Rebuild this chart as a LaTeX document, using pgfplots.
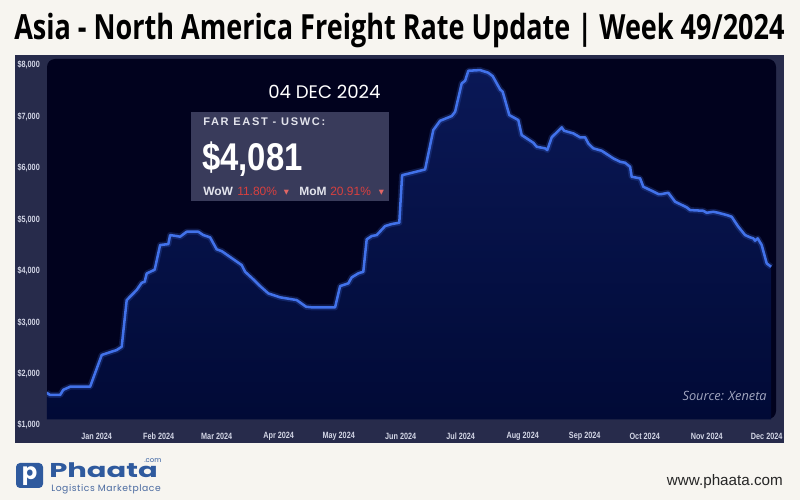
\documentclass[border=0pt]{standalone}
\usepackage{pgfplots}
\usepackage{pgfplotstable}
\pgfplotsset{compat=1.18}
\usepackage{fontspec}
\setmainfont{Liberation Sans}
\newfontfamily\titlefont[FakeStretch=0.78]{Open Sans}
\newfontfamily\narrowfont[FakeStretch=0.8]{Liberation Sans}
\newfontfamily\spacedfont[LetterSpace=15]{Liberation Sans}
\newfontfamily\bignum[FakeStretch=0.85]{Liberation Sans}
\newfontfamily\datefont{Poppins}
\newfontfamily\srcfont{Open Sans}
\newfontfamily\symfont{DejaVu Sans}
\newfontfamily\logofont{Poppins}
\newfontfamily\logosubfont[LetterSpace=6]{Poppins}

\definecolor{pagebg}{HTML}{F7F5F0}
\definecolor{panel}{HTML}{272B4B}
\definecolor{innerbg}{HTML}{01021E}
\definecolor{areatop}{HTML}{0A1856}
\definecolor{areabot}{HTML}{010A36}
\definecolor{linecol}{HTML}{4272EA}
\definecolor{boxcol}{HTML}{393B5B}
\definecolor{boxtext}{HTML}{E2E3EC}
\definecolor{tickcol}{HTML}{D3D6E6}
\definecolor{redcol}{HTML}{D8403F}
\definecolor{srccol}{HTML}{A0A4BE}
\definecolor{logoblue}{HTML}{2F5A9E}
\definecolor{logosub}{HTML}{4A6AA0}

\pgfplotstableread{
day value
-25 1633
-23.3 1590
-18.3 1590
-16.7 1690
-13.3 1750
-3.3 1750
2.5 2366
5 2400
10 2463
12.5 2527
15 3433
20 3630
22.5 3770
24 3790
25 3950
29 4025
31.7 4503
35.8 4522
36.7 4697
40 4678
41.7 4665
45 4762
50.8 4762
53.3 4697
56.7 4652
60 4420
62.5 4385
72.5 4114
74.2 3984
78.3 3837
81.7 3706
85.8 3564
91.7 3487
100 3434
104.7 3304
107.5 3293
119.2 3293
121.7 3706
125.8 3759
127.5 3875
130.8 3953
133.3 3984
135 4614
137.5 4678
140 4697
144.2 4872
147.5 4911
151.3 4937
152.7 5860
161.7 5947
164.2 5973
168.3 6737
171.7 6918
177.5 7009
179.2 7093
182.5 7645
184.2 7695
185.8 7889
191.7 7903
195.8 7851
198 7786
201.7 7528
203 7482
206.3 7029
210.8 6932
212.5 6640
218.3 6491
220 6413
224.2 6382
225.3 6349
227.5 6596
232.5 6790
233.7 6724
238.3 6673
241.7 6596
244.2 6596
245.8 6479
248.3 6382
252.5 6335
258.3 6187
261.7 6122
264.2 6102
266.7 6024
267.5 5830
271.7 5799
273.3 5636
277.5 5558
280.8 5494
282.5 5494
285.8 5519
289.2 5345
295 5236
296.7 5183
303.3 5169
305 5130
308.3 5150
310.8 5130
315 5086
317.5 5053
320.8 4859
324.2 4697
326.7 4653
328.3 4633
329.2 4587
330.5 4633
332.5 4503
335 4147
337.2 4081
}\rates

\begin{document}
\begin{tikzpicture}[x=0.75pt,y=0.75pt]
\useasboundingbox (0,0) rectangle (800,500);
\fill[pagebg] (0,0) rectangle (800,500);
\node[anchor=base west, inner sep=0pt, text=black] at (14,460)
  {\titlefont\bfseries\fontsize{26}{30}\selectfont Asia - North America Freight Rate Update | Week 49/2024};
\fill[panel] (15,57) rectangle (784,445);
\fill[innerbg, rounded corners=6pt] (47,81) rectangle (776,441);

\begin{axis}[
  at={(35.25pt,56pt)}, anchor=south west,
  width=546.75pt, height=274.9pt, scale only axis,
  xmin=-24.85, xmax=339.65, ymin=1000, ymax=8122,
  axis line style={draw=none}, tick style={draw=none},
  major tick length=0pt,
  xtick={0,31,60,91,121,152,182,213,244,274,305,335},
  xticklabels={Jan 2024,Feb 2024,Mar 2024,Apr 2024,May 2024,Jun 2024,Jul 2024,Aug 2024,Sep 2024,Oct 2024,Nov 2024,Dec 2024},
  ytick={1000,2000,3000,4000,5000,6000,7000,8000},
  yticklabels={{\$1,000},{\$2,000},{\$3,000},{\$4,000},{\$5,000},{\$6,000},{\$7,000},{\$8,000}},
  xticklabel style={font=\narrowfont\bfseries\fontsize{6.8}{8}\selectfont, text=tickcol, anchor=center, yshift=-8.4pt, inner sep=0pt},
  yticklabel style={font=\narrowfont\bfseries\fontsize{6.8}{8}\selectfont, text=tickcol, anchor=east, xshift=-5.2pt, inner sep=0pt},
]
\addplot[draw=none, shade, top color=areatop, bottom color=areabot] table[x=day,y=value] {\rates} |- (axis cs:-25,1117) -- cycle;
\addplot[linecol, line width=4.5pt, opacity=0.22, line join=round] table[x=day,y=value] {\rates};
\addplot[linecol, line width=1.9pt, line join=round] table[x=day,y=value] {\rates};
\end{axis}

% info box
\node[anchor=base west, inner sep=0pt, text=white] at (268,401)
  {\datefont\fontsize{13.6}{16}\selectfont 04 DEC 2024};
\fill[boxcol] (191,299) rectangle (389,388);
\node[anchor=base west, inner sep=0pt, text=boxtext] at (203,374.5)
  {\spacedfont\bfseries\fontsize{8.3}{10}\selectfont FAR EAST - USWC:};
\node[anchor=base west, inner sep=0pt, text=white] at (202,329)
  {\bignum\bfseries\fontsize{29}{32}\selectfont \$4,081};
\node[anchor=base west, inner sep=0pt, text=boxtext] at (203,304)
  {\bfseries\fontsize{9}{10}\selectfont WoW};
\node[anchor=base west, inner sep=0pt, text=redcol] at (237,304)
  {\fontsize{9}{10}\selectfont 11.80\%};
\node[anchor=base west, inner sep=0pt, text=redcol!80!white] at (283.5,305)
  {\symfont\fontsize{5}{6}\selectfont ▼};
\node[anchor=base west, inner sep=0pt, text=boxtext] at (299,304)
  {\bfseries\fontsize{9}{10}\selectfont MoM};
\node[anchor=base west, inner sep=0pt, text=redcol] at (330,304)
  {\fontsize{9}{10}\selectfont 20.91\%};
\node[anchor=base west, inner sep=0pt, text=redcol!80!white] at (378.5,305)
  {\symfont\fontsize{5}{6}\selectfont ▼};

% source
\node[anchor=base east, inner sep=0pt, text=srccol] at (767,99)
  {\srcfont\itshape\fontsize{9.6}{11}\selectfont Source: Xeneta};

% footer
\fill[logoblue, rounded corners=3pt] (16,12) rectangle (43,37);
\node[text=white, inner sep=0pt] at (29.5,24)
  {\logofont\bfseries\fontsize{17}{18}\selectfont p};
\node[anchor=base west, inner sep=0pt, text=logoblue] at (49,22)
  {\logofont\bfseries\fontsize{15}{17}\selectfont\scalebox{1.45}[1]{Phaata}};
\node[anchor=base west, inner sep=0pt, text=logoblue] at (144,37)
  {\logofont\fontsize{5.2}{6}\selectfont .com};
\node[anchor=base west, inner sep=0pt, text=logosub] at (51,8)
  {\logosubfont\fontsize{6.9}{7}\selectfont Logistics Marketplace};
\node[anchor=base east, inner sep=0pt, text=black!85] at (783,15)
  {\fontsize{11.4}{13}\selectfont www.phaata.com};
\end{tikzpicture}
\end{document}
